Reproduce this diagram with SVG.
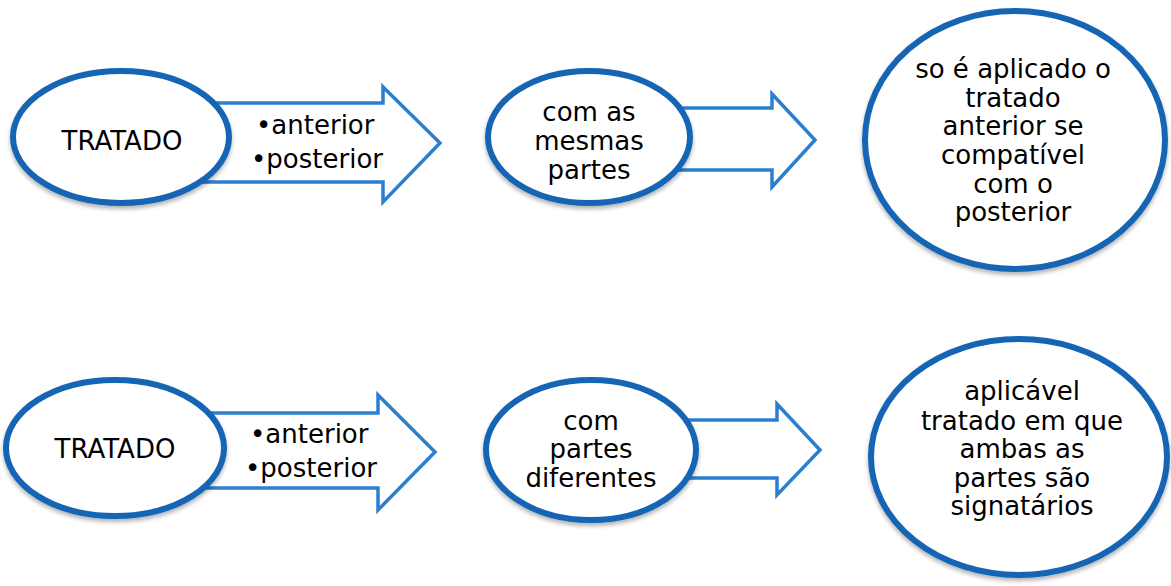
<svg xmlns="http://www.w3.org/2000/svg" width="1171" height="586" viewBox="0 0 1171 586">
<defs>
<filter id="sh" x="-10%" y="-10%" width="120%" height="130%">
<feGaussianBlur in="SourceAlpha" stdDeviation="2"/>
<feOffset dx="0" dy="3" result="b"/>
<feComponentTransfer><feFuncA type="linear" slope="0.3"/></feComponentTransfer>
<feMerge><feMergeNode/><feMergeNode in="SourceGraphic"/></feMerge>
</filter>
</defs>
<style>
.node{fill:#ffffff;stroke:#1565b4;stroke-width:6;filter:url(#sh)}
.arr{fill:#ffffff;stroke:#2b7fd1;stroke-width:3.5;stroke-linejoin:miter}
text{font-family:"DejaVu Sans","Verdana",sans-serif;font-size:26px;fill:#000000}
.c{text-anchor:middle}
</style>
<rect width="1171" height="586" fill="#ffffff"/>
<g id="connectors">
<g id="arrow1">
<polygon class="arr" points="200,103 383,103 383,87 440,143 383,202 383,182 200,182"/>
<text x="256" y="134">•anterior</text>
<text x="251" y="168">•posterior</text>
</g>
<g id="arrow2">
<polygon class="arr" points="660,108 772,108 772,94 815,140 772,187 772,170 660,170"/>
</g>
<g id="arrow3">
<polygon class="arr" points="195,413 378,413 378,395 435,452 378,510 378,488 195,488"/>
<text x="250" y="443">•anterior</text>
<text x="245" y="477">•posterior</text>
</g>
<g id="arrow4">
<polygon class="arr" points="665,420 777,420 777,404 820,450 777,495 777,478 665,478"/>
</g>
</g>
<g id="node-tratado1">
<ellipse class="node" cx="121" cy="137" rx="108" ry="66"/>
<text class="c" x="122" y="150">TRATADO</text>
</g>
<g id="node-mesmas">
<ellipse class="node" cx="589" cy="137" rx="101" ry="66"/>
<text class="c" x="589" y="121">com as</text>
<text class="c" x="589" y="150">mesmas</text>
<text class="c" x="589" y="179">partes</text>
</g>
<g id="node-aplicado">
<ellipse class="node" cx="1015" cy="140" rx="150" ry="129"/>
<text class="c" x="1013" y="78">so é aplicado o</text>
<text class="c" x="1013" y="107">tratado</text>
<text class="c" x="1013" y="135">anterior se</text>
<text class="c" x="1013" y="164">compatível</text>
<text class="c" x="1013" y="193">com o</text>
<text class="c" x="1013" y="221">posterior</text>
</g>
<g id="node-tratado2">
<ellipse class="node" cx="115" cy="448" rx="109" ry="68"/>
<text class="c" x="115" y="458">TRATADO</text>
</g>
<g id="node-diferentes">
<ellipse class="node" cx="591" cy="450" rx="105" ry="70"/>
<text class="c" x="591" y="430">com</text>
<text class="c" x="591" y="458">partes</text>
<text class="c" x="591" y="487">diferentes</text>
</g>
<g id="node-signatarios">
<ellipse class="node" cx="1019" cy="457" rx="148" ry="118"/>
<text class="c" x="1022" y="400">aplicável</text>
<text class="c" x="1022" y="430">tratado em que</text>
<text class="c" x="1022" y="458">ambas as</text>
<text class="c" x="1022" y="487">partes são</text>
<text class="c" x="1022" y="515">signatários</text>
</g>
</svg>
